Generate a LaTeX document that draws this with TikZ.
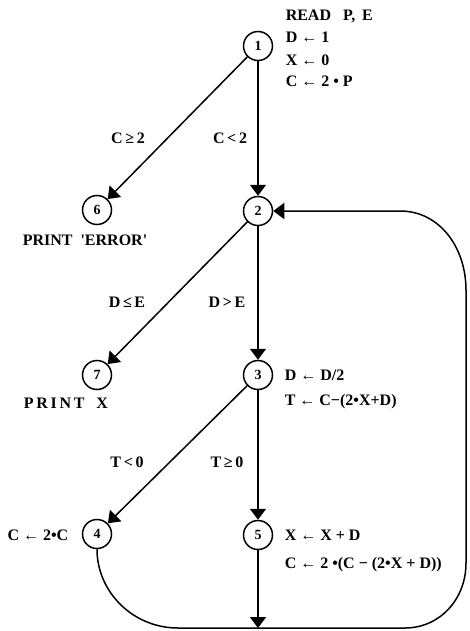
\documentclass[tikz,border=0pt]{standalone}
\usepackage{fontspec}
\setmainfont{Liberation Serif}
\usetikzlibrary{arrows.meta}
\begin{document}
\begin{tikzpicture}[x=1pt,y=-1pt, line width=1.5pt,
  st/.style={circle, draw, minimum size=29pt, inner sep=0pt, font=\fontsize{14}{14}\selectfont\bfseries},
  tx/.style={font=\fontsize{16}{16}\selectfont\bfseries, inner sep=0pt, anchor=west, text height=11pt, text depth=0pt},
  lb/.style={font=\fontsize{16}{16}\selectfont\bfseries, inner sep=0pt, text height=11pt, text depth=0pt},
  ar/.style={-{Triangle[length=11pt,width=16pt]}}]
\useasboundingbox (0,0) rectangle (469,631);
% states
\node[st] (n1) at (258,46) {1};
\node[st] (n2) at (258,211) {2};
\node[st] (n3) at (258,375) {3};
\node[st] (n4) at (97,534) {4};
\node[st] (n5) at (258,535) {5};
\node[st] (n6) at (97,210) {6};
\node[st] (n7) at (97,375) {7};
% actions
\node[tx] (t1a) at (285,15) {READ\ \ \ P,\ \,E};
\node[tx] (t1b) at (285,37) {D ← 1};
\node[tx] (t1c) at (285,60) {X ← 0};
\node[tx] (t1d) at (285,81) {C ← 2 • P};
\node[lb] (t6) at (85,240) {PRINT\ \ \textquotesingle ERROR\textquotesingle};
\node[lb] (t7) at (66,403) {P\,R\,I\,N\,T\ \ \ X};
\node[tx] (t3a) at (284,375) {D ← D/2};
\node[tx] (t3b) at (284,400) {T ← C−(2•X+D)};
\node[tx, anchor=east] (t4) at (69,535) {C ← 2•C};
\node[tx] (t5a) at (284,535) {X ← X + D};
\node[tx] (t5b) at (284,563) {C ← 2 •(C − (2•X + D))};
% conditions
\node[lb] (c12) at (128,138) {C\,≥\,2};
\node[lb] (c12b) at (230,138) {C\,<\,2};
\node[lb] (c27) at (127,302) {D\,≤\,E};
\node[lb] (c23) at (227,302) {D\,>\,E};
\node[lb] (c34) at (127,462) {T\,<\,0};
\node[lb] (c35) at (227,462) {T\,≥\,0};
% connectors
\draw[ar] (n1) -- (n6);
\draw[ar] (n1) -- (n2);
\draw[ar] (n2) -- (n7);
\draw[ar] (n2) -- (n3);
\draw[ar] (n3) -- (n4);
\draw[ar] (n3) -- (n5);
\coordinate (j) at (258,628);
\draw[ar] (n5) -- (j);
\draw[ar] (n4.south) .. controls (97,592) and (133,628) .. (178,628) -- (405,628)
  .. controls (439,628) and (466,600) .. (466,563) -- (466,290)
  .. controls (466,248) and (440,211) .. (400,211) -- (n2.east);
\end{tikzpicture}
\end{document}
